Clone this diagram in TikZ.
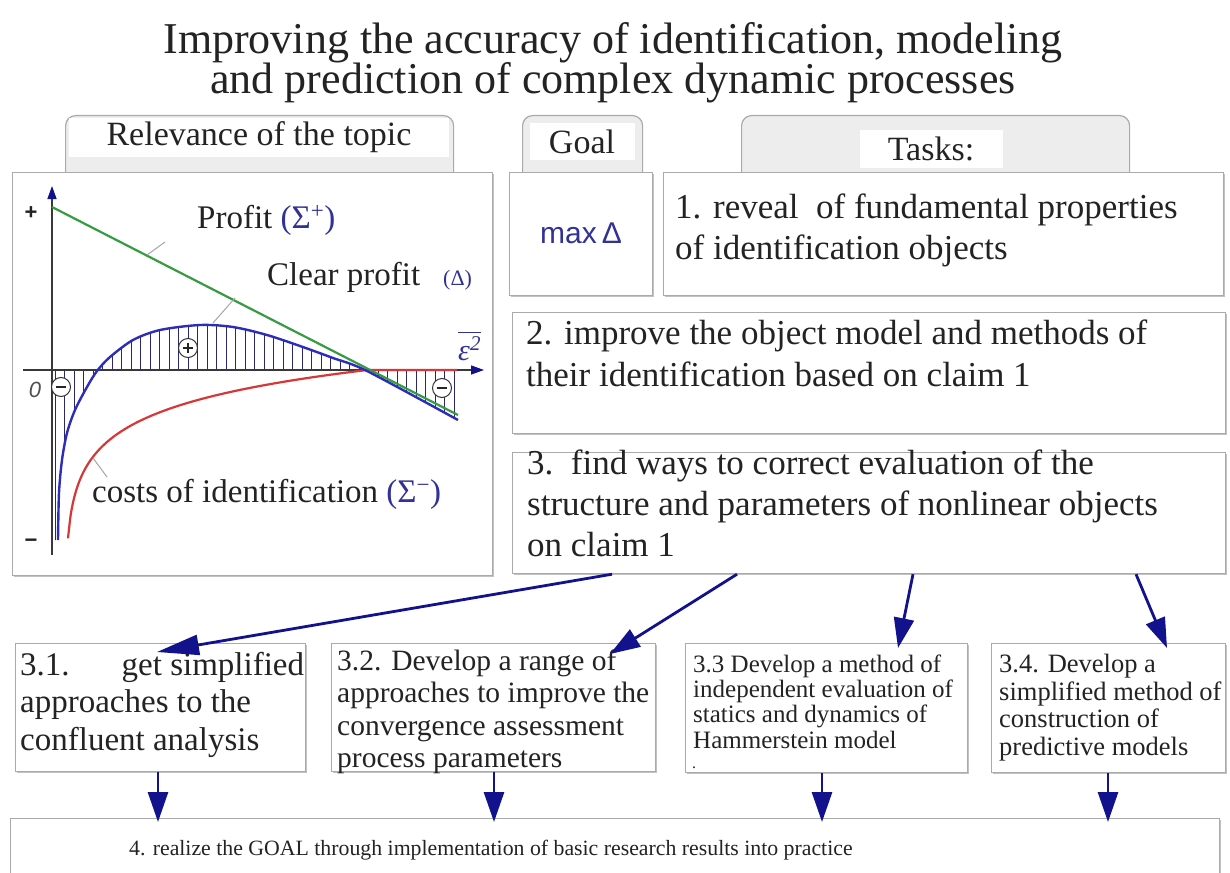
\documentclass[tikz,border=0pt]{standalone}
\usepackage{fontspec}
\setmainfont{Liberation Serif}
\setsansfont{Liberation Sans}
\usetikzlibrary{arrows.meta,shadows,calc}
\definecolor{navyA}{RGB}{18,18,140}
\definecolor{curveB}{RGB}{45,45,185}
\definecolor{hatchC}{RGB}{40,40,110}
\definecolor{gline}{RGB}{55,155,65}
\definecolor{rline}{RGB}{215,55,55}
\definecolor{txtB}{RGB}{50,50,150}
\definecolor{ink}{RGB}{35,35,35}
\definecolor{frame}{RGB}{170,170,170}
\begin{document}
\begin{tikzpicture}[x=1pt,y=-1pt,
  box/.style={draw=frame, fill=white, line width=1.2pt, inner sep=0pt, anchor=north west,
    drop shadow={shadow xshift=1.2pt, shadow yshift=-1.5pt, fill=black!40, opacity=0.6}},
  tabbox/.style={draw=frame, fill=gray!14, line width=1.2pt, rounded corners=10pt, inner sep=0pt, anchor=north west},
  tablabel/.style={fill=white, inner sep=0pt, text=ink, font=\fontsize{34}{38}\selectfont},
  tl/.style={anchor=base west, inner sep=0pt, text=ink},
  ftask/.style={font=\fontsize{35}{40}\selectfont},
  fgraph/.style={font=\fontsize{33}{38}\selectfont},
  arr/.style={draw=navyA, line width=2.8pt, -{Triangle[length=30pt,width=20pt]}},
  lead/.style={draw=gray!70, line width=1pt},
  sign/.style={circle, draw=gray!40!black, fill=white, line width=1pt, minimum size=19pt, inner sep=0pt},
  axis/.style={draw=gray!45!black, line width=1.3pt, -{Triangle[length=13pt,width=9pt,color=navyA]}}
]
\useasboundingbox (0,0) rectangle (1230,872);
\fill[white] (0,0) rectangle (1230,872);

% title
\node[anchor=base, inner sep=0pt, text=ink, font=\fontsize{44}{48}\selectfont] (title1) at (613,54) {Improving the accuracy of identification, modeling};
\node[anchor=base, inner sep=0pt, text=ink, font=\fontsize{44}{48}\selectfont] (title2) at (613,94) {and prediction of complex dynamic processes};

% tabs
\node[tabbox, minimum width=388pt, minimum height=67pt] (tabrel) at (65,115) {};
\node[tabbox, minimum width=120pt, minimum height=67pt] (tabgoal) at (522,115) {};
\node[tabbox, minimum width=388pt, minimum height=67pt] (tabtask) at (741,115) {};
\node[tablabel, minimum width=380pt, minimum height=39pt] (lrel) at (259,137.5) {Relevance of the topic};
\node[tablabel, minimum width=105pt, minimum height=37pt] (lgoal) at (582,141.5) {Goal};
\node[tablabel, minimum width=143pt, minimum height=38pt] (ltask) at (931,149) {Tasks:};

% boxes
\node[box, minimum width=480pt, minimum height=403pt] (graph) at (12,172) {};
\node[box, minimum width=143pt, minimum height=123pt] (goal) at (509,172) {};
\node[box, minimum width=560pt, minimum height=123pt] (t1) at (663,172) {};
\node[box, minimum width=713pt, minimum height=121pt] (t2) at (512,312) {};
\node[box, minimum width=713pt, minimum height=121pt] (t3) at (512,452) {};
\node[box, minimum width=290pt, minimum height=128pt] (b31) at (15,643) {};
\node[box, minimum width=324pt, minimum height=128pt] (b32) at (331,643) {};
\node[box, minimum width=282pt, minimum height=129pt] (b33) at (685,643) {};
\node[box, minimum width=234pt, minimum height=129pt] (b34) at (991,643) {};
\node[box, minimum width=1209pt, minimum height=80pt] (b4) at (10,818) {};

% goal
\node[anchor=base, inner sep=0pt, text=txtB, font=\sffamily\fontsize{30}{34}\selectfont] (maxd) at (581,243) {max\,Δ};

% task texts
\node[tl, ftask] (t1a) at (675,218) {1. reveal\ \ of fundamental properties};
\node[tl, ftask] (t1b) at (675,259) {of identification objects};
\node[tl, ftask] (t2a) at (526,344) {2. improve the object model and methods of};
\node[tl, ftask] (t2b) at (526,386) {their identification based on claim 1};
\node[tl, ftask] (t3a) at (527,474) {3.\ \ find ways to correct evaluation of the};
\node[tl, ftask] (t3b) at (527,515) {structure and parameters of nonlinear objects};
\node[tl, ftask] (t3c) at (527,556) {on claim 1};

% sub-task texts
\node[tl, font=\fontsize{33}{37}\selectfont] (s1a) at (20,675) {3.1.\hspace{52pt}get simplified};
\node[tl, font=\fontsize{33}{37}\selectfont] (s1b) at (20,712) {approaches to the};
\node[tl, font=\fontsize{33}{37}\selectfont] (s1c) at (20,750) {confluent analysis};
\node[tl, font=\fontsize{29.5}{33}\selectfont] (s2a) at (337,670) {3.2. Develop a range of};
\node[tl, font=\fontsize{29.5}{33}\selectfont] (s2b) at (337,702) {approaches to improve the};
\node[tl, font=\fontsize{29.5}{33}\selectfont] (s2c) at (337,735) {convergence assessment};
\node[tl, font=\fontsize{29.5}{33}\selectfont] (s2d) at (337,767) {process parameters};
\node[tl, font=\fontsize{25}{28}\selectfont] (s3a) at (693,672) {3.3 Develop a method of};
\node[tl, font=\fontsize{25}{28}\selectfont] (s3b) at (693,697) {independent evaluation of};
\node[tl, font=\fontsize{25}{28}\selectfont] (s3c) at (693,722) {statics and dynamics of};
\node[tl, font=\fontsize{25}{28}\selectfont] (s3d) at (693,748) {Hammerstein model};
\node[tl, font=\fontsize{16}{18}\selectfont] (s3dot) at (692,768) {.};
\node[tl, font=\fontsize{26.5}{30}\selectfont] (s4a) at (999,672) {3.4. Develop a};
\node[tl, font=\fontsize{26.5}{30}\selectfont] (s4b) at (999,700) {simplified method of};
\node[tl, font=\fontsize{26.5}{30}\selectfont] (s4c) at (999,727) {construction of};
\node[tl, font=\fontsize{26.5}{30}\selectfont] (s4d) at (999,755) {predictive models};
\node[tl, font=\fontsize{21.8}{26}\selectfont] (s5) at (129,855) {4. realize the GOAL through implementation of basic research results into practice};

% ===== graph =====
\begin{scope}
\clip plot[smooth] coordinates {(58,540) (59,493) (62,460) (67,433) (75,410) (87,387) (97,371) (110,357) (133,340) (160,330) (200,325) (233,327) (267,335) (300,346) (333,358) (367,371) (458,419)} -- (458,370) -- (52,370) -- (52,540) -- cycle;
\foreach \x in {55,64.5,...,458} \draw[hatchC, line width=1pt] (\x,300) -- (\x,560);
\end{scope}
\draw[axis] (52,555) -- (52,186);
\draw[axis] (23,370) -- (484,370);
\draw[rline, line width=2.2pt] plot[domain=68:367, samples=120, smooth] (\x, {370+36.5*(ln(302)-ln(\x-65))}) -- (457,370);
\draw[gline, line width=2.2pt] (52,207) -- (458,415);
\draw[curveB, line width=2.4pt] plot[smooth] coordinates {(58,540) (59,493) (62,460) (67,433) (75,410) (87,387) (97,371) (110,357) (133,340) (160,330) (200,325) (233,327) (267,335) (300,346) (333,358) (367,371) (458,420)};

\node[sign] (cp) at (188,348) {};
\draw[gray!30!black, line width=1.2pt] ([xshift=-5pt]cp.center) -- ([xshift=5pt]cp.center) ([yshift=-5pt]cp.center) -- ([yshift=5pt]cp.center);
\node[sign] (cm1) at (61,387) {};
\draw[gray!30!black, line width=1.2pt] ([xshift=-5pt]cm1.center) -- ([xshift=5pt]cm1.center);
\node[sign] (cm2) at (442,388) {};
\draw[gray!30!black, line width=1.2pt] ([xshift=-5pt]cm2.center) -- ([xshift=5pt]cm2.center);

\node[anchor=center, inner sep=0pt, text=ink, font=\sffamily\bfseries\fontsize{22}{24}\selectfont] (plus) at (31,213) {+};
\node[anchor=center, inner sep=0pt, text=ink, font=\sffamily\bfseries\fontsize{22}{24}\selectfont] (minus) at (31,543) {−};
\node[anchor=center, inner sep=0pt, text=ink!80, font=\sffamily\itshape\fontsize{22}{24}\selectfont] (zero) at (35,390) {0};

\node[tl, fgraph] (lprofit) at (197,228) {Profit \textcolor{txtB}{(Σ\textsuperscript{+})}};
\node[tl, fgraph] (lclear) at (267,285) {Clear profit};
\node[tl, text=txtB, font=\fontsize{22}{24}\selectfont] (ldelta) at (443,285) {(Δ)};
\node[tl, fgraph] (lcost) at (92,502) {costs of identification \textcolor{txtB}{(Σ\textsuperscript{−})}};
\node[tl, text=txtB, font=\itshape\fontsize{30}{32}\selectfont] (leps) at (458,360) {ε\textsuperscript{2}};
\draw[txtB, line width=1.2pt] ([yshift=4pt]leps.north west) -- ([yshift=4pt]leps.north east);

\coordinate (pp1) at (165,242); \coordinate (pp2) at (147,255);
\draw[lead] (pp1) -- (pp2);
\coordinate (cp1) at (235,298); \coordinate (cp2) at (213,323);
\draw[lead] (cp1) -- (cp2);
\coordinate (rp1) at (107,477); \coordinate (rp2) at (93,458);
\draw[lead] (rp1) -- (rp2);

% ===== arrows =====
\draw[arr, -{Triangle[length=42pt,width=20pt]}] ([xshift=100pt]t3.south west) -- ([xshift=142pt,yshift=-9pt]b31.north west);
\draw[arr] ([xshift=225pt]t3.south west) -- ([xshift=279pt,yshift=-11pt]b32.north west);
\draw[arr] ([xshift=401pt]t3.south west) -- ([xshift=213pt,yshift=-5pt]b33.north west);
\draw[arr] ([xshift=624pt]t3.south west) -- ([xshift=176pt,yshift=-5pt]b34.north west);

\coordinate (d1) at ([xshift=143pt]b31.south west);
\coordinate (d2) at ([xshift=163pt]b32.south west);
\coordinate (d3) at ([xshift=137pt]b33.south west);
\coordinate (d4) at ([xshift=117pt]b34.south west);
\draw[arr] (d1) -- ($(d1 |- b4.north)+(0,4)$);
\draw[arr] (d2) -- ($(d2 |- b4.north)+(0,4)$);
\draw[arr] (d3) -- ($(d3 |- b4.north)+(0,4)$);
\draw[arr] (d4) -- ($(d4 |- b4.north)+(0,4)$);
\end{tikzpicture}
\end{document}
